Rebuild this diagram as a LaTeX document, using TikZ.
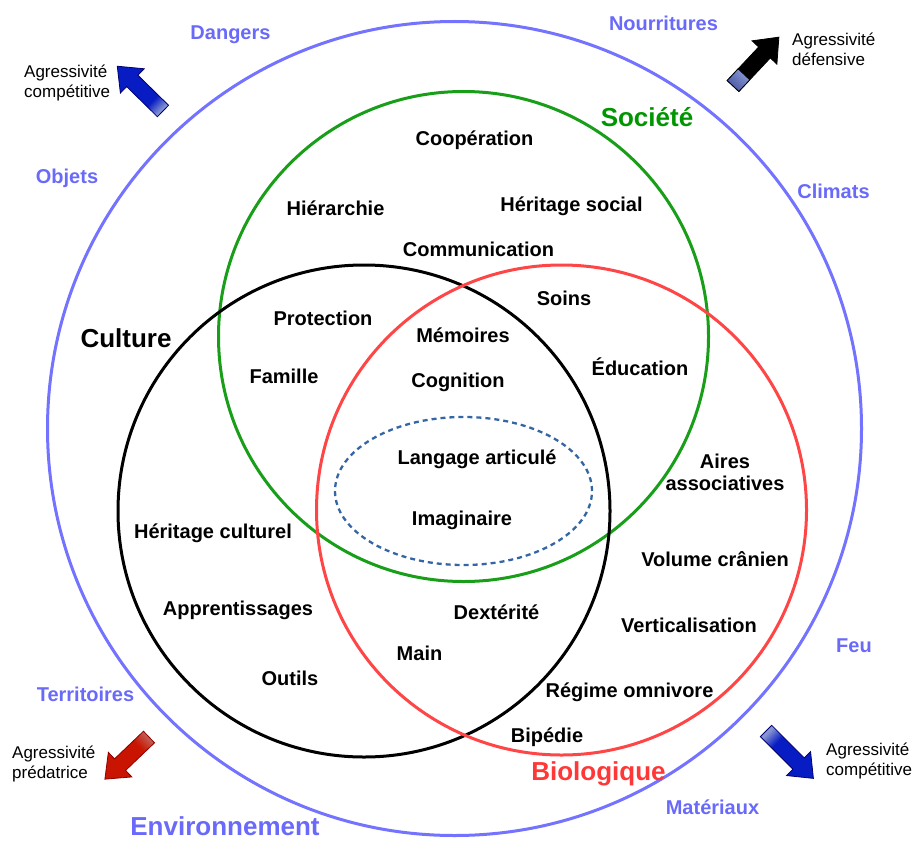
\documentclass[tikz,border=0pt]{standalone}
\usepackage{fontspec}
\setmainfont{Liberation Sans}
\definecolor{envblue}{RGB}{115,115,255}
\definecolor{envtext}{RGB}{105,105,250}
\definecolor{socgreen}{RGB}{25,158,25}
\definecolor{soctext}{RGB}{0,150,0}
\definecolor{bioline}{RGB}{255,70,70}
\definecolor{biotext}{RGB}{255,55,55}
\definecolor{imagblue}{RGB}{52,101,164}
\definecolor{arrdark}{RGB}{8,28,195}
\definecolor{arrlight}{RGB}{135,150,210}
\definecolor{arrline}{RGB}{0,0,110}
\definecolor{reddark}{RGB}{200,20,0}
\definecolor{redlight}{RGB}{195,90,80}
\definecolor{redline}{RGB}{140,0,0}
\definecolor{taildark}{RGB}{70,85,160}
\definecolor{taillight}{RGB}{140,155,215}
\pgfdeclareverticalshading{blueshade}{100bp}{color(0bp)=(arrlight); color(24bp)=(arrlight); color(37bp)=(arrdark); color(100bp)=(arrdark)}
\pgfdeclareverticalshading{redshade}{100bp}{color(0bp)=(redlight); color(24bp)=(redlight); color(37bp)=(reddark); color(100bp)=(reddark)}
\begin{document}
\begin{tikzpicture}[x=1pt,y=-1pt,
  lab/.style={anchor=base,inner sep=0pt,font=\fontsize{20}{22}\selectfont\bfseries},
  envlab/.style={lab,text=envtext},
  biglab/.style={anchor=base,inner sep=0pt,font=\fontsize{26}{30}\selectfont\bfseries},
  small/.style={anchor=north west,inner sep=0pt,align=left,font=\fontsize{17}{19.5}\selectfont},
  ring/.style={line width=3pt},
  arrowshape/.style={line width=0.8pt}]
\useasboundingbox (0,0) rectangle (920,840);

% circles
\draw[ring,envblue] (454.5,428.5) circle[radius=407pt];
\draw[ring,socgreen] (463.5,336.5) circle[radius=245pt];
\draw[ring,black] (364,511) circle[radius=246pt];
\draw[ring,bioline] (561.5,510) circle[radius=245pt];
\draw[imagblue,line width=2.3pt,dash pattern=on 5pt off 4pt] (463.5,491) ellipse[x radius=128.5pt,y radius=74pt];

% arrows
\begin{scope}[shift={(163,111)},rotate=135.6]
  \path[arrowshape,draw=arrline,shading=blueshade,shading angle=45.6]
    (0,-8) -- (43,-8) -- (43,-17) -- (64,0) -- (43,17) -- (43,8) -- (0,8) -- cycle;
\end{scope}
\begin{scope}[shift={(733,86)},rotate=46.8]
  \path[arrowshape,draw=black,fill=black]
    (0,-8) -- (46,-8) -- (46,-17) -- (67,0) -- (46,17) -- (46,8) -- (0,8) -- cycle;
  \path[arrowshape,draw=black,left color=taillight,right color=taildark,shading angle=-43.2]
    (0,-8) rectangle (16,8);
\end{scope}
\begin{scope}[shift={(149,737)},rotate=223.7]
  \path[arrowshape,draw=redline,shading=redshade,shading angle=133.7]
    (0,-8) -- (40,-8) -- (40,-17) -- (61,0) -- (40,17) -- (40,8) -- (0,8) -- cycle;
\end{scope}
\begin{scope}[shift={(766,731)},rotate=-45]
  \path[arrowshape,draw=arrline,shading=blueshade,shading angle=-135]
    (0,-8) -- (46,-8) -- (46,-17) -- (67,0) -- (46,17) -- (46,8) -- (0,8) -- cycle;
\end{scope}

% small labels
\node[small] (agtl) at (24,65) {Agressivité\\compétitive};
\node[small] (agtr) at (792,33) {Agressivité\\défensive};
\node[small] (agbl) at (12,746) {Agressivité\\prédatrice};
\node[small] (agbr) at (826,743) {Agressivité\\compétitive};

% environment labels
\node[envlab] (dangers) at (230.5,40) {Dangers};
\node[envlab] (nourr) at (663.5,31) {Nourritures};
\node[envlab] (objets) at (67,183) {Objets};
\node[envlab] (climats) at (833.5,198) {Climats};
\node[envlab] (feu) at (854,652) {Feu};
\node[envlab] (territ) at (85.5,701) {Territoires};
\node[envlab] (mater) at (712.5,814) {Matériaux};
\node[biglab,text=envtext] (env) at (225,835) {Environnement};

% set titles
\node[biglab,text=soctext] (societe) at (647,127) {Société};
\node[biglab,text=black] (culture) at (126,347) {Culture};
\node[biglab,text=biotext] (bio) at (598.5,780) {Biologique};

% inner labels
\node[lab] (coop) at (474.5,146) {Coopération};
\node[lab] (hier) at (335.5,215) {Hiérarchie};
\node[lab] (hersoc) at (571.5,211) {Héritage social};
\node[lab] (comm) at (478.5,256) {Communication};
\node[lab] (soins) at (564,305) {Soins};
\node[lab] (prot) at (323,325) {Protection};
\node[lab] (memo) at (463,342) {Mémoires};
\node[lab] (fam) at (284,383) {Famille};
\node[lab] (cogn) at (458,387) {Cognition};
\node[lab] (educ) at (640,375) {Éducation};
\node[lab] (lang) at (477,464) {Langage articulé};
\node[lab] (imag) at (462,525) {Imaginaire};
\node[lab,anchor=north,align=center] (aires) at (725,454) {Aires\\associatives};
\node[lab] (hercul) at (213,538) {Héritage culturel};
\node[lab] (volume) at (715,566) {Volume crânien};
\node[lab] (appr) at (238,615) {Apprentissages};
\node[lab] (dext) at (496.5,619) {Dextérité};
\node[lab] (vert) at (689,632) {Verticalisation};
\node[lab] (main) at (419.5,660) {Main};
\node[lab] (outils) at (290,685) {Outils};
\node[lab] (regime) at (629.5,697) {Régime omnivore};
\node[lab] (biped) at (547,742) {Bipédie};
\end{tikzpicture}
\end{document}
